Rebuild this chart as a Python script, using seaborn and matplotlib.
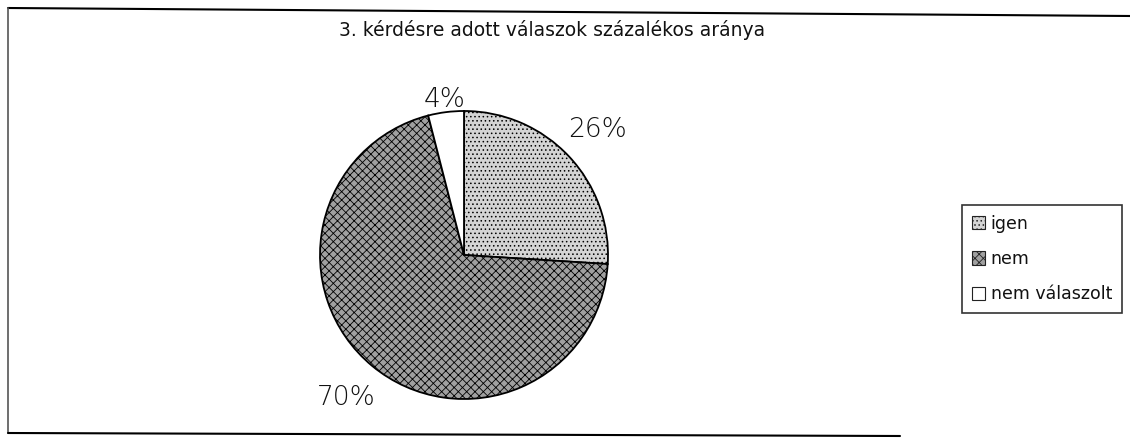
import numpy as np
import seaborn as sns
import matplotlib.pyplot as plt
from matplotlib.patches import Patch
from matplotlib.lines import Line2D

sns.set_theme(style="white")
plt.rcParams['font.family'] = ['DejaVu Sans']
plt.rcParams['hatch.linewidth'] = 0.6

title = "3. kérdésre adott válaszok százalékos aránya"
labels = ['igen', 'nem', 'nem válaszolt']
values = [26, 70, 4]
colors = ['#d4d4d4', '#a0a0a0', '#ffffff']
hatches = ['....', 'xxxx', '']
label_dist = [1.27, 1.28, 1.09]

W, H = 1130, 447
fig = plt.figure(figsize=(W / 100, H / 100), dpi=100)

# pie axes: centre ~ (464, 255) px, radius ~ 144 px
cx, cy, r = 464, 255, 144
ax = fig.add_axes([(cx - r) / W, (H - cy - r) / H, 2 * r / W, 2 * r / H])
wedges, _ = ax.pie(values, colors=colors, startangle=90, counterclock=False,
                   wedgeprops=dict(edgecolor='black', linewidth=1.3))
for w, h in zip(wedges, hatches):
    w.set_hatch(h)
ax.set_xlim(-1, 1)
ax.set_ylim(-1, 1)
ax.set_aspect('equal')
ax.axis('off')

for w, v, d in zip(wedges, values, label_dist):
    ang = np.deg2rad((w.theta1 + w.theta2) / 2)
    ax.text(d * np.cos(ang), d * np.sin(ang), f"{v}%", ha='center', va='center',
            fontsize=19, color='#111111', fontweight='light', clip_on=False)

fig.text(552 / W, 1 - 30 / H, title, ha='center', va='center', fontsize=13.5, color='#111111')

# legend
handles = [Patch(facecolor=c, edgecolor='#222222', hatch=h, linewidth=0.8)
           for c, h in zip(colors, hatches)]
leg = fig.legend(handles, labels, loc='upper left', bbox_to_anchor=(962 / W, 1 - 205 / H),
                 fontsize=12.5, frameon=True, fancybox=False, handlelength=0.8, handleheight=0.8,
                 handletextpad=0.3, borderpad=0.55, labelspacing=1.0, borderaxespad=0)
leg.get_frame().set_edgecolor('black')
leg.get_frame().set_linewidth(1.2)
for t in leg.get_texts():
    t.set_color('#111111')

# outer chart border
fig.add_artist(Line2D([8 / W, 1.0], [1 - 8 / H, 1 - 16 / H], color='black', lw=1.5))
fig.add_artist(Line2D([8 / W, 8 / W], [1 - 8 / H, 1 - 433 / H], color='#555555', lw=1.2))
fig.add_artist(Line2D([8 / W, 900 / W], [1 - 433 / H, 1 - 436 / H], color='black', lw=1.5))

fig.savefig('out.png', dpi=100, facecolor='white')
